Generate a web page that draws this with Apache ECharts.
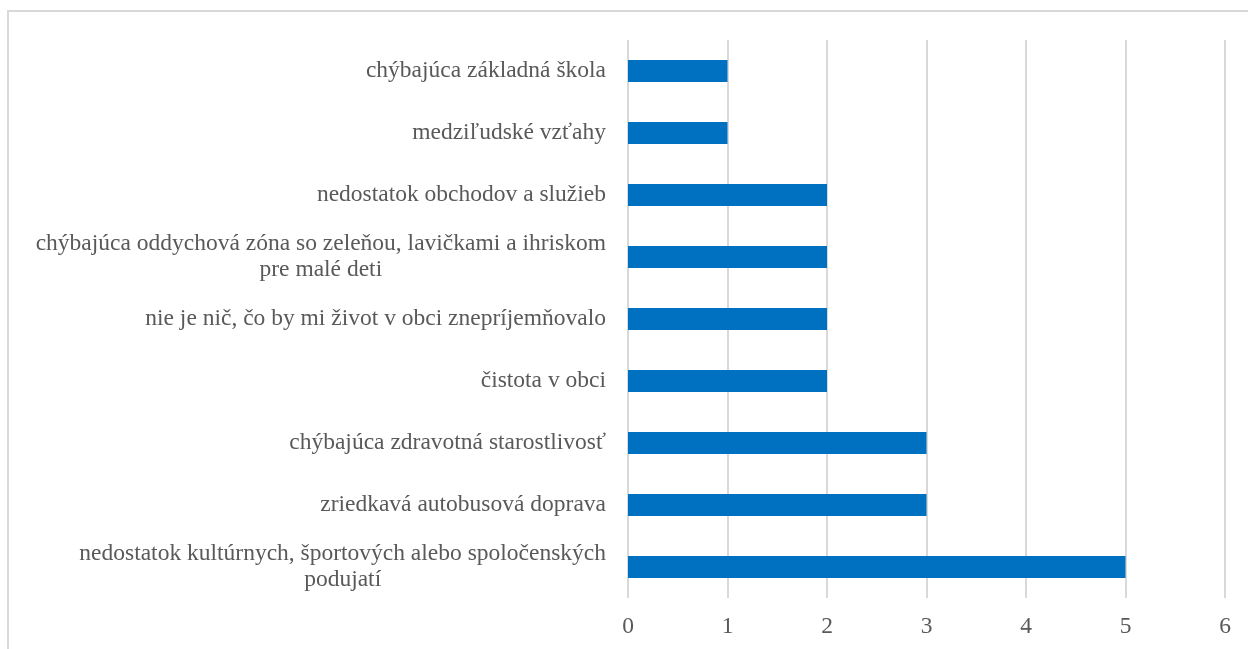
<!DOCTYPE html>
<html>
<head>
<meta charset="utf-8">
<script src="https://cdn.jsdelivr.net/npm/echarts@6/dist/echarts.min.js"></script>
<style>
  html, body { margin: 0; padding: 0; background: #fff; }
  .frame { position: absolute; left: 7px; top: 10px; width: 1400px; height: 800px; border: 2px solid #d9d9d9; }
  #chart { position: absolute; left: 0; top: 0; width: 1248px; height: 649px; }
</style>
</head>
<body>
<div class="frame"></div>
<div id="chart"></div>
<script>
// categories listed bottom to top
const categories = [
  'nedostatok kultúrnych, športových alebo spoločenských\npodujatí',
  'zriedkavá autobusová doprava',
  'chýbajúca zdravotná starostlivosť',
  'čistota v obci',
  'nie je nič, čo by mi život v obci znepríjemňovalo',
  'chýbajúca oddychová zóna so zeleňou, lavičkami a ihriskom\npre malé deti',
  'nedostatok obchodov a služieb',
  'medziľudské vzťahy',
  'chýbajúca základná škola'
]
const counts = [5, 3, 3, 2, 2, 2, 2, 1, 1]

const font = '"Liberation Serif", "DejaVu Serif", serif'
const chart = echarts.init(document.getElementById('chart'))

chart.setOption({
  animation: false,
  grid: { left: 628, right: 23, top: 40, bottom: 51 },
  xAxis: {
    type: 'value',
    min: 0,
    max: 6,
    interval: 1,
    axisLine: { show: false },
    axisTick: { show: false },
    splitLine: { lineStyle: { color: '#d9d9d9', width: 2 } },
    axisLabel: { color: '#595959', fontFamily: font, fontSize: 23.5, margin: 17 }
  },
  yAxis: {
    type: 'category',
    data: categories,
    axisLine: { show: false },
    axisTick: { show: false },
    axisLabel: {
      color: '#595959',
      fontFamily: font,
      fontSize: 23.5,
      margin: 22,
      lineHeight: 26,
      formatter: v => v.split('\n').map(s => '{c|' + s + '}').join('\n'),
      rich: { c: { align: 'center', color: '#595959', fontFamily: font, fontSize: 23.5, lineHeight: 26 } }
    }
  },
  series: [{
    type: 'bar',
    data: counts,
    barWidth: 22,
    itemStyle: { color: '#0070C0' }
  }]
})
</script>
</body>
</html>
